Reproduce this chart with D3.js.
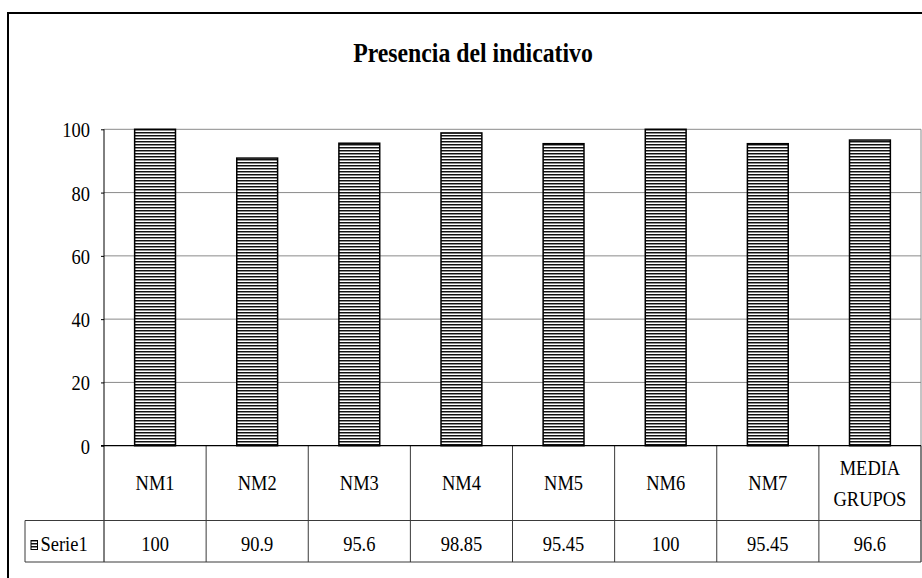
<!DOCTYPE html>
<html>
<head>
<meta charset="utf-8">
<script src="https://cdn.jsdelivr.net/npm/d3@7"></script>
<style>
  html, body { margin: 0; padding: 0; background: #fff; }
  svg { display: block; }
</style>
</head>
<body>
<svg id="chart" width="922" height="578"></svg>
<script>
// Chart data
const title = "Presencia del indicativo";
const categories = ["NM1", "NM2", "NM3", "NM4", "NM5", "NM6", "NM7", "MEDIA GRUPOS"];
const categoryLines = [["NM1"], ["NM2"], ["NM3"], ["NM4"], ["NM5"], ["NM6"], ["NM7"], ["MEDIA", "GRUPOS"]];
const serieName = "Serie1";
const values = [100, 90.9, 95.6, 98.85, 95.45, 100, 95.45, 96.6];
const valueLabels = ["100", "90.9", "95.6", "98.85", "95.45", "100", "95.45", "96.6"];
const yTicks = [0, 20, 40, 60, 80, 100];

// Layout
const plotLeft = 104, plotRight = 921;
const yTopPx = 129.3, yZeroPx = 445.7;
const catRowBottom = 520.5, valRowBottom = 562;
const tableLeft = 25;
const SX = 0.88;
const lineColor = "#3a3a3a";

const svg = d3.select("#chart");

// Serif text, narrowed horizontally around its anchor point
function label(sel, size, weight) {
  return sel.style("font-family", '"Liberation Serif"')
    .attr("font-size", size)
    .attr("font-weight", weight || "normal")
    .attr("fill", "#000");
}
function at(px, py) { return `translate(${px},${py}) scale(${SX},1)`; }

// Horizontal stripe fill used by the bars and the legend key
const defs = svg.append("defs");
const pat = defs.append("pattern")
  .attr("id", "stripes")
  .attr("patternUnits", "userSpaceOnUse")
  .attr("width", 8).attr("height", 3);
pat.append("rect").attr("width", 8).attr("height", 3).attr("fill", "#ffffff");
pat.append("rect").attr("y", 0).attr("width", 8).attr("height", 1).attr("fill", "#111111");
pat.append("rect").attr("y", 1).attr("width", 8).attr("height", 1).attr("fill", "#8c8c8c");

// Outer frame (runs off the right and bottom of the page)
svg.append("rect")
  .attr("x", 8).attr("y", 13)
  .attr("width", 1000).attr("height", 1000)
  .attr("fill", "none").attr("stroke", "#000").attr("stroke-width", 2);

// Title
svg.append("text")
  .attr("transform", at(473, 61.5))
  .attr("text-anchor", "middle")
  .call(label, 27, "bold")
  .text(title);

// Scales
const x = d3.scaleBand().domain(categories).range([plotLeft, plotRight]).paddingInner(0).paddingOuter(0);
const y = d3.scaleLinear().domain([0, 100]).range([yZeroPx, yTopPx]);

// Gridlines
svg.append("g").selectAll("line")
  .data(yTicks.filter(d => d > 0))
  .join("line")
  .attr("x1", plotLeft).attr("x2", plotRight)
  .attr("y1", d => y(d)).attr("y2", d => y(d))
  .attr("stroke", "#8a8a8a").attr("stroke-width", 1);

// Right edge of plot area
svg.append("line")
  .attr("x1", plotRight).attr("x2", plotRight)
  .attr("y1", y(100)).attr("y2", valRowBottom)
  .attr("stroke", "#8a8a8a").attr("stroke-width", 1);

// Bars
const barW = x.bandwidth() * 0.4;
svg.append("g").selectAll("rect")
  .data(values)
  .join("rect")
  .attr("x", (d, i) => x(categories[i]) + (x.bandwidth() - barW) / 2)
  .attr("y", d => y(d))
  .attr("width", barW)
  .attr("height", d => y(0) - y(d))
  .attr("fill", "url(#stripes)")
  .attr("stroke", "#000").attr("stroke-width", 1.5);

// Y axis
const yAxis = d3.axisLeft(y).tickValues(yTicks).tickSize(3).tickSizeOuter(0).tickFormat(d3.format("d"));
const gy = svg.append("g").attr("transform", `translate(${plotLeft},0)`).call(yAxis);
gy.attr("font-family", null).attr("font-size", null);
gy.select(".domain").remove();
gy.selectAll(".tick line").attr("stroke", "#000");
gy.selectAll(".tick text")
  .attr("x", null).attr("dy", null)
  .attr("transform", at(-14, 7.5))
  .attr("text-anchor", "end")
  .call(label, 21);

// Vertical axis line continues down through the data table
svg.append("line")
  .attr("x1", plotLeft).attr("x2", plotLeft)
  .attr("y1", y(100)).attr("y2", valRowBottom)
  .attr("stroke", "#000").attr("stroke-width", 1);

// Data table: column dividers
const edges = categories.map(c => x(c)).concat([plotRight]);
svg.append("g").selectAll("line")
  .data(edges.slice(1))
  .join("line")
  .attr("x1", d => d).attr("x2", d => d)
  .attr("y1", yZeroPx).attr("y2", valRowBottom)
  .attr("stroke", lineColor).attr("stroke-width", 1);

// Data table: row lines
[catRowBottom, valRowBottom].forEach(yy => {
  svg.append("line")
    .attr("x1", tableLeft).attr("x2", plotRight)
    .attr("y1", yy).attr("y2", yy)
    .attr("stroke", lineColor).attr("stroke-width", 1);
});
svg.append("line")
  .attr("x1", tableLeft).attr("x2", tableLeft)
  .attr("y1", catRowBottom).attr("y2", valRowBottom)
  .attr("stroke", lineColor).attr("stroke-width", 1);

// Category axis line at zero
svg.append("line")
  .attr("x1", plotLeft - 3).attr("x2", plotRight)
  .attr("y1", yZeroPx).attr("y2", yZeroPx)
  .attr("stroke", "#000").attr("stroke-width", 1.2);

// Category labels
const catMid = (yZeroPx + catRowBottom) / 2;
const lineGap = 31.5;
categoryLines.forEach((lines, i) => {
  const cx = x(categories[i]) + x.bandwidth() / 2;
  lines.forEach((ln, k) => {
    const cy = catMid + (k - (lines.length - 1) / 2) * lineGap;
    svg.append("text")
      .attr("transform", at(cx, cy + 7.3))
      .attr("text-anchor", "middle")
      .call(label, 21)
      .text(ln);
  });
});

// Value row
const valMid = 543.7;
valueLabels.forEach((v, i) => {
  const cx = x(categories[i]) + x.bandwidth() / 2;
  svg.append("text")
    .attr("transform", at(cx, valMid + 7.3))
    .attr("text-anchor", "middle")
    .call(label, 21)
    .text(v);
});

// Legend key and series name
svg.append("rect")
  .attr("x", 31).attr("y", 540.5).attr("width", 6.5).attr("height", 9)
  .attr("fill", "url(#stripes)").attr("stroke", "#000").attr("stroke-width", 1);
svg.append("text")
  .attr("transform", at(40.5, valMid + 7.3))
  .attr("text-anchor", "start")
  .call(label, 21)
  .text(serieName);
</script>
</body>
</html>
